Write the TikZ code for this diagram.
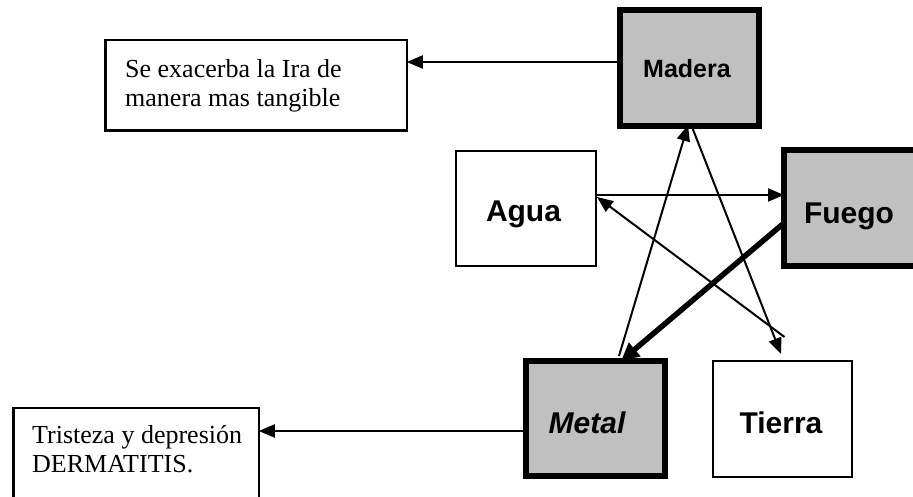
\documentclass[tikz,border=0pt]{standalone}
\usepackage{fontspec}
\setmainfont{Liberation Serif}
\newfontfamily\headfont{Liberation Sans}
\usetikzlibrary{arrows.meta}
\definecolor{elemgray}{HTML}{C0C0C0}
\begin{document}
\begin{tikzpicture}[x=1pt,y=-1pt,
  box/.style={draw, rectangle, inner sep=0pt, outer sep=0pt},
  heavybox/.style={box, line width=6pt, fill=elemgray},
  lightbox/.style={box, line width=1.8pt, fill=white},
  notebox/.style={box, line width=2.5pt, fill=white},
  elemtext/.style={anchor=base, inner sep=0pt, font=\headfont\fontsize{30}{36}\selectfont\bfseries},
  notetext/.style={anchor=base west, inner sep=0pt, align=left,
    font=\fontsize{26}{28.5}\selectfont},
  link/.style={line width=2pt, -{Triangle[length=16pt,width=13pt]}},
  heavylink/.style={line width=5.5pt, -{Triangle[length=18pt,width=17pt]}}
]
\useasboundingbox (0,0) rectangle (913,497);

% element boxes
\node[heavybox, minimum width=139pt, minimum height=116pt] (madera) at (689.5,68) {};
\node[heavybox, minimum width=139pt, minimum height=116pt] (fuego)  at (853.5,208) {};
\node[heavybox, minimum width=139pt, minimum height=115pt] (metal)  at (595.5,418.5) {};
\node[lightbox, minimum width=140pt, minimum height=115pt] (agua)   at (526,208.5) {};
\node[lightbox, minimum width=139pt, minimum height=116pt] (tierra) at (782.5,419) {};

% element names
\node[elemtext, font=\headfont\fontsize{25}{30}\selectfont\bfseries] (tmadera) at (687,78) {Madera};
\node[elemtext] (tfuego)  at (849,224) {Fuego};
\node[elemtext] (tagua)   at (523.5,222) {Agua};
\node[elemtext] (ttierra) at (781,433) {Tierra};
\node[elemtext, font=\headfont\fontsize{30}{36}\selectfont\bfseries\itshape] (tmetal) at (587,433) {Metal};

% note boxes (anchored on the baseline of their last line)
\node[notebox, minimum width=301.5pt, minimum height=90.5pt] (ira) at (256,85.5) {};
\node[notebox, minimum width=245.5pt, minimum height=112pt] (tristeza) at (136,464) {};
\node[notetext] (tira) at (125,106.5) {Se exacerba la Ira de\\manera mas tangible};
\node[notetext, font=\fontsize{26}{29}\selectfont] (ttristeza) at (32,472) {Tristeza y depresi\'on\\DERMATITIS.};

% connectors to the notes
\coordinate (mw) at ([yshift=6pt]madera.west);
\draw[link] (mw) -- (mw -| ira.east);
\coordinate (tw) at ([yshift=-12.5pt]metal.west);
\draw[link] (tw) -- (tw -| tristeza.east);

% the cycle between the elements
\draw[link] ([xshift=23.5pt,yshift=5pt]metal.north) -- ([xshift=-1.5pt,yshift=1pt]madera.south);
\draw[link] ([xshift=2.5pt,yshift=-1pt]madera.south) -- ([xshift=-1.5pt,yshift=7pt]tierra.north);
\draw[link] ([xshift=2pt,yshift=24pt]tierra.north) -- ([xshift=1pt,yshift=11.5pt]agua.east);
\coordinate (ae) at ([yshift=13.5pt]agua.east);
\draw[link] (ae) -- (ae -| fuego.west);
\draw[heavylink] ([yshift=-15pt]fuego.west) -- ([xshift=25.5pt]metal.north);
\end{tikzpicture}
\end{document}
